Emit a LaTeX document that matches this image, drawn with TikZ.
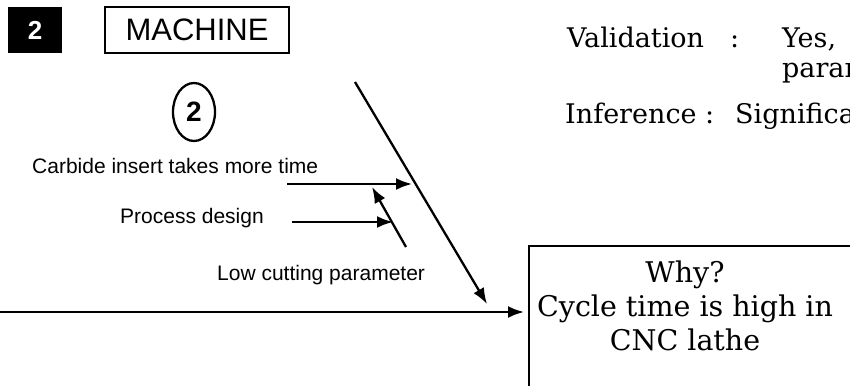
\documentclass[tikz,border=0pt]{standalone}
\usepackage{fontspec}
\setmainfont{DejaVu Serif}
\setsansfont{Liberation Sans}
\usetikzlibrary{positioning,arrows.meta,shapes.geometric}
\tikzset{
  cause/.style={line width=2.3pt,-{Latex[length=16pt,width=12pt]}},
  causelabel/.style={font=\sffamily\fontsize{21}{25}\selectfont,inner sep=0pt,anchor=base west},
  notetext/.style={font=\fontsize{27}{30}\selectfont,inner sep=0pt,anchor=base west},
}

\begin{document}
\begin{tikzpicture}[x=1pt,y=-1pt]
    \useasboundingbox (0,0) rectangle (850,385);
    \clip (0,0) rectangle (850,385);
    % heading
    \node[fill=black,text=white,minimum width=54pt,minimum height=46pt,inner sep=0pt,font=\fontsize{26}{26}\sffamily\bfseries\selectfont] (num) at (35,30) {2};
    \node[draw,line width=2.3pt,minimum width=184pt,minimum height=46pt,inner sep=0pt,font=\sffamily\fontsize{31}{31}\selectfont] (machine) at (197,30) {MACHINE};
    \node[ellipse,draw,line width=2.3pt,minimum width=42pt,minimum height=58pt,inner sep=0pt,font=\fontsize{28}{28}\sffamily\bfseries\selectfont] (circnum) at (194,112) {2};
    % notes on the right
    \node[notetext] (valid) at (567,48) {Validation};
    \node[notetext] (validcolon) at (730,48) {:};
    \node[notetext] (yes) at (782,48) {Yes,};
    \node[notetext] (param) at (782,78) {parameter};
    \node[notetext] (infer) at (565,123) {Inference :};
    \node[notetext] (signif) at (735,123) {Significant};
    % effect box
    \node[draw,line width=2.3pt,anchor=north west,minimum width=372pt,minimum height=175pt] (effect) at (528,245) {};
    \node[align=center,inner sep=0pt,font=\fontsize{28.5}{34}\selectfont] (why) at (685,306) {Why?\\Cycle time is high in\\CNC lathe};
    % bones
    \coordinate (spine) at (0,312);
    \draw[cause,shorten >=4pt] (spine) -- (spine -| effect.west);
    \coordinate (bonetop) at (355,82);
    \coordinate (bonetip) at (487,304);
    \draw[cause] (bonetop) -- (bonetip);
    % causes
    \node[causelabel] (carbide) at (32,173) {Carbide insert takes more time};
    \node[causelabel] (process) at (120,223) {Process design};
    \node[causelabel] (lowcut) at (217,280) {Low cutting parameter};
    \coordinate (c1) at (287,184);
    \coordinate (c1tip) at (412,184);
    \coordinate (c2) at (292,222);
    \coordinate (c2tip) at (393,222);
    \coordinate (c3) at (406,247);
    \coordinate (c3tip) at (372,187);
    \draw[cause] (c1) -- (c1tip);
    \draw[cause] (c2) -- (c2tip);
    \draw[cause] (c3) -- (c3tip);
\end{tikzpicture}
\end{document}
